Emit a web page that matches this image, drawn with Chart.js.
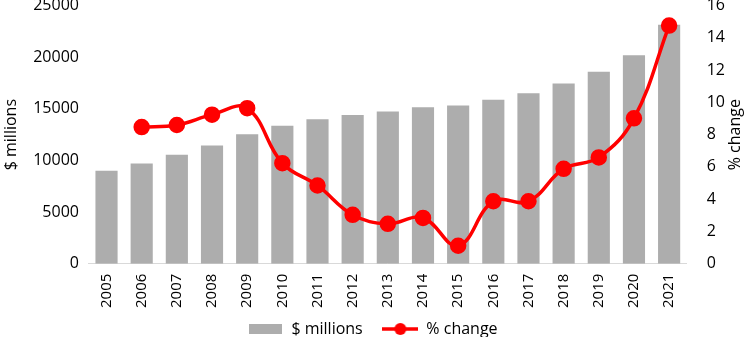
<!DOCTYPE html>
<html>
<head>
<meta charset="utf-8">
<script src="https://cdn.jsdelivr.net/npm/chart.js@4.4.1/dist/chart.umd.min.js"></script>
<style>
  html, body { margin: 0; padding: 0; background: #fff; overflow: hidden; }
  .frame { position: relative; width: 747px; height: 337px; overflow: hidden; }
  .wrap { position: absolute; left: 0; top: -24px; width: 747px; height: 371px; }
</style>
</head>
<body>
<div class="frame"><div class="wrap"><canvas id="chart"></canvas></div></div>
<script>
// data
const years = ["2005","2006","2007","2008","2009","2010","2011","2012","2013","2014","2015","2016","2017","2018","2019","2020","2021"];
const millions = [9000, 9700, 10550, 11450, 12550, 13350, 14000, 14400, 14750, 15150, 15330, 15880, 16500, 17450, 18600, 20200, 23150];
const pctChange = [null, 8.47, 8.6, 9.24, 9.64, 6.23, 4.85, 3.03, 2.47, 2.84, 1.11, 3.87, 3.87, 5.88, 6.59, 9.01, 14.76];

const BAR = '#adadad';
const RED = '#ff0000';
const FONT = "'Open Sans', 'Noto Sans', sans-serif";

// legend symbols drawn as little canvases
function barSymbol() {
  const c = document.createElement('canvas');
  c.width = 33; c.height = 10;
  const g = c.getContext('2d');
  g.fillStyle = BAR;
  g.fillRect(0, 0, 33, 10);
  return c;
}
function lineSymbol() {
  const c = document.createElement('canvas');
  c.width = 36; c.height = 14;
  const g = c.getContext('2d');
  g.strokeStyle = RED; g.lineWidth = 3.5;
  g.beginPath(); g.moveTo(0, 7); g.lineTo(36, 7); g.stroke();
  g.fillStyle = RED;
  g.beginPath(); g.arc(18, 7, 6, 0, Math.PI * 2); g.fill();
  return c;
}

// right axis title reads bottom-to-top like the left one
const rightTitle = {
  id: 'rightTitle',
  afterDraw(chart) {
    const ctx = chart.ctx;
    const a = chart.chartArea;
    ctx.save();
    ctx.translate(735, (a.top + a.bottom) / 2);
    ctx.rotate(-Math.PI / 2);
    ctx.font = "16px " + FONT;
    ctx.fillStyle = '#000';
    ctx.textAlign = 'center';
    ctx.textBaseline = 'middle';
    ctx.fillText('% change', 0, 0);
    ctx.restore();
  }
};

Chart.defaults.font.family = FONT;
Chart.defaults.color = '#000';

new Chart(document.getElementById('chart'), {
  data: {
    labels: years,
    datasets: [
      {
        type: 'line',
        label: '% change',
        data: pctChange,
        yAxisID: 'y1',
        borderColor: RED,
        backgroundColor: RED,
        borderWidth: 3.5,
        pointRadius: 6.5,
        pointHoverRadius: 6.5,
        tension: 0.4,
        order: 0
      },
      {
        type: 'bar',
        label: '$ millions',
        data: millions,
        yAxisID: 'y',
        backgroundColor: BAR,
        barPercentage: 0.63,
        categoryPercentage: 1.0,
        order: 1
      }
    ]
  },
  plugins: [rightTitle],
  options: {
    responsive: true,
    maintainAspectRatio: false,
    animation: false,
    layout: { padding: { top: 0, left: 0, right: 2, bottom: 0 } },
    plugins: {
      tooltip: { enabled: false },
      legend: {
        position: 'bottom',
        labels: {
          usePointStyle: true,
          pointStyleWidth: 36,
          padding: 3,
          font: { size: 16 },
          generateLabels: function(chart) {
            return [
              { text: '$ millions\u00a0\u00a0\u00a0\u00a0', pointStyle: barSymbol(), datasetIndex: 1, fillStyle: BAR, strokeStyle: BAR, lineWidth: 0 },
              { text: '% change', pointStyle: lineSymbol(), datasetIndex: 0, fillStyle: RED, strokeStyle: RED, lineWidth: 0 }
            ];
          }
        }
      }
    },
    scales: {
      x: {
        grid: { display: false, drawTicks: false },
        border: { display: true, color: '#d9d9d9', width: 1 },
        ticks: { minRotation: 90, maxRotation: 90, padding: 10, font: { size: 15 } }
      },
      y: {
        position: 'left',
        min: 0, max: 25000,
        ticks: { stepSize: 5000, padding: 10, font: { size: 16 }, callback: v => String(v) },
        grid: { display: false, drawTicks: false },
        border: { display: false },
        title: { display: true, text: '$ millions', font: { size: 16 }, padding: 2 }
      },
      y1: {
        position: 'right',
        min: 0, max: 16,
        ticks: { stepSize: 2, padding: 20, font: { size: 16 } },
        grid: { display: false, drawTicks: false },
        border: { display: false }
      }
    }
  }
});
</script>
</body>
</html>
